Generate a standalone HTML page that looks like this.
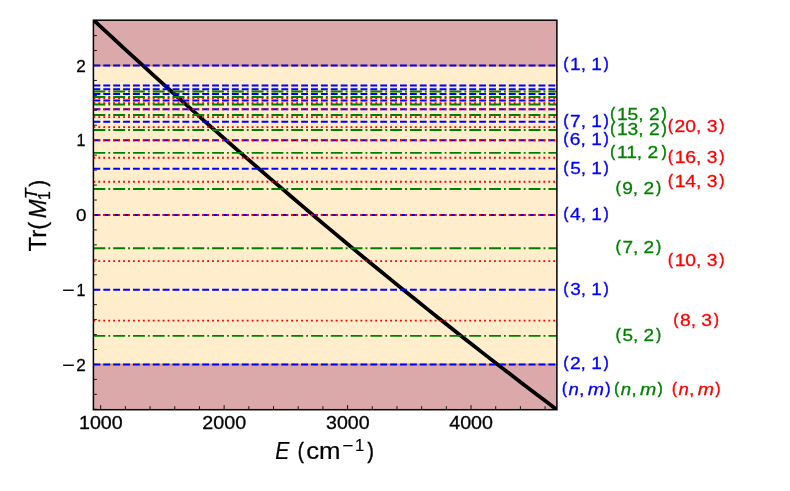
<!DOCTYPE html>
<html><head><meta charset="utf-8"><title>Tr(M1T) vs E</title>
<style>html,body{margin:0;padding:0;background:#fff}body{width:790px;height:491px;overflow:hidden}svg{display:block;will-change:transform}text{font-family:"Liberation Sans",sans-serif}</style>
</head><body>
<svg width="790" height="491" viewBox="0 0 790 491">
<rect x="0" y="0" width="790" height="491" fill="#ffffff"/>
<defs><clipPath id="ax"><rect x="93.4" y="20.2" width="463.5" height="389.5"/></clipPath></defs>
<g clip-path="url(#ax)">
<rect x="93.4" y="20.2" width="463.5" height="45.280" fill="#dba9a9"/>
<rect x="93.4" y="65.480" width="463.5" height="298.980" fill="#ffedcc"/>
<rect x="93.4" y="364.460" width="463.5" height="45.240" fill="#dba9a9"/>
<line x1="93.4" x2="556.9" y1="65.480" y2="65.480" stroke="#dc9870" stroke-width="1.9"/>
<line x1="93.4" x2="556.9" y1="364.460" y2="364.460" stroke="#dc9870" stroke-width="1.9"/>
<g stroke="#000" stroke-width="0.9">
<line x1="100.700" x2="100.700" y1="409.7" y2="405.10"/>
<line x1="125.388" x2="125.388" y1="409.7" y2="406.20"/>
<line x1="150.076" x2="150.076" y1="409.7" y2="406.20"/>
<line x1="174.764" x2="174.764" y1="409.7" y2="406.20"/>
<line x1="199.452" x2="199.452" y1="409.7" y2="406.20"/>
<line x1="224.140" x2="224.140" y1="409.7" y2="405.10"/>
<line x1="248.828" x2="248.828" y1="409.7" y2="406.20"/>
<line x1="273.516" x2="273.516" y1="409.7" y2="406.20"/>
<line x1="298.204" x2="298.204" y1="409.7" y2="406.20"/>
<line x1="322.892" x2="322.892" y1="409.7" y2="406.20"/>
<line x1="347.580" x2="347.580" y1="409.7" y2="405.10"/>
<line x1="372.268" x2="372.268" y1="409.7" y2="406.20"/>
<line x1="396.956" x2="396.956" y1="409.7" y2="406.20"/>
<line x1="421.644" x2="421.644" y1="409.7" y2="406.20"/>
<line x1="446.332" x2="446.332" y1="409.7" y2="406.20"/>
<line x1="471.020" x2="471.020" y1="409.7" y2="405.10"/>
<line x1="495.708" x2="495.708" y1="409.7" y2="406.20"/>
<line x1="520.396" x2="520.396" y1="409.7" y2="406.20"/>
<line x1="545.084" x2="545.084" y1="409.7" y2="406.20"/>
<line x1="93.4" x2="96.90" y1="409.307" y2="409.307"/>
<line x1="93.4" x2="96.90" y1="394.358" y2="394.358"/>
<line x1="93.4" x2="96.90" y1="379.409" y2="379.409"/>
<line x1="93.4" x2="98.00" y1="364.460" y2="364.460"/>
<line x1="93.4" x2="96.90" y1="349.511" y2="349.511"/>
<line x1="93.4" x2="96.90" y1="334.562" y2="334.562"/>
<line x1="93.4" x2="96.90" y1="319.613" y2="319.613"/>
<line x1="93.4" x2="96.90" y1="304.664" y2="304.664"/>
<line x1="93.4" x2="98.00" y1="289.715" y2="289.715"/>
<line x1="93.4" x2="96.90" y1="274.766" y2="274.766"/>
<line x1="93.4" x2="96.90" y1="259.817" y2="259.817"/>
<line x1="93.4" x2="96.90" y1="244.868" y2="244.868"/>
<line x1="93.4" x2="96.90" y1="229.919" y2="229.919"/>
<line x1="93.4" x2="98.00" y1="214.970" y2="214.970"/>
<line x1="93.4" x2="96.90" y1="200.021" y2="200.021"/>
<line x1="93.4" x2="96.90" y1="185.072" y2="185.072"/>
<line x1="93.4" x2="96.90" y1="170.123" y2="170.123"/>
<line x1="93.4" x2="96.90" y1="155.174" y2="155.174"/>
<line x1="93.4" x2="98.00" y1="140.225" y2="140.225"/>
<line x1="93.4" x2="96.90" y1="125.276" y2="125.276"/>
<line x1="93.4" x2="96.90" y1="110.327" y2="110.327"/>
<line x1="93.4" x2="96.90" y1="95.378" y2="95.378"/>
<line x1="93.4" x2="96.90" y1="80.429" y2="80.429"/>
<line x1="93.4" x2="98.00" y1="65.480" y2="65.480"/>
<line x1="93.4" x2="96.90" y1="50.531" y2="50.531"/>
<line x1="93.4" x2="96.90" y1="35.582" y2="35.582"/>
<line x1="93.4" x2="96.90" y1="20.633" y2="20.633"/>
</g>
<polyline points="82.16,9.42 92.16,18.76 102.20,28.11 112.28,37.45 122.41,46.79 132.58,56.14 142.80,65.48 153.06,74.82 163.36,84.17 173.72,93.51 184.12,102.85 194.57,112.20 205.07,121.54 215.62,130.88 226.22,140.22 236.87,149.57 247.58,158.91 258.33,168.25 269.14,177.60 280.01,186.94 290.92,196.28 301.90,205.63 312.93,214.97 324.02,224.31 335.16,233.66 346.36,243.00 357.63,252.34 368.95,261.69 380.33,271.03 391.78,280.37 403.28,289.72 414.85,299.06 426.48,308.40 438.18,317.74 449.94,327.09 461.77,336.43 473.66,345.77 485.62,355.12 497.65,364.46 509.74,373.80 521.91,383.15 534.14,392.49 546.45,401.83 558.83,411.18 571.28,420.52" fill="none" stroke="#000" stroke-width="3.75" stroke-linejoin="round"/>
<g stroke="#0000ff" stroke-width="1.87" stroke-dasharray="6.905 2.986" fill="none">
<line x1="93.4" x2="556.9" y1="65.480" y2="65.480"/>
<line x1="93.4" x2="556.9" y1="364.460" y2="364.460"/>
<line x1="93.4" x2="556.9" y1="289.715" y2="289.715"/>
<line x1="93.4" x2="556.9" y1="214.970" y2="214.970"/>
<line x1="93.4" x2="556.9" y1="168.775" y2="168.775"/>
<line x1="93.4" x2="556.9" y1="140.225" y2="140.225"/>
<line x1="93.4" x2="556.9" y1="121.765" y2="121.765"/>
<line x1="93.4" x2="556.9" y1="109.265" y2="109.265"/>
<line x1="93.4" x2="556.9" y1="100.454" y2="100.454"/>
<line x1="93.4" x2="556.9" y1="94.030" y2="94.030"/>
<line x1="93.4" x2="556.9" y1="89.211" y2="89.211"/>
<line x1="93.4" x2="556.9" y1="85.508" y2="85.508"/>
</g>
<g stroke="#008000" stroke-width="1.87" stroke-dasharray="11.944 2.986 1.866 2.986" fill="none">
<line x1="93.4" x2="556.9" y1="335.910" y2="335.910"/>
<line x1="93.4" x2="556.9" y1="248.235" y2="248.235"/>
<line x1="93.4" x2="556.9" y1="189.011" y2="189.011"/>
<line x1="93.4" x2="556.9" y1="152.870" y2="152.870"/>
<line x1="93.4" x2="556.9" y1="130.050" y2="130.050"/>
<line x1="93.4" x2="556.9" y1="114.942" y2="114.942"/>
<line x1="93.4" x2="556.9" y1="104.496" y2="104.496"/>
<line x1="93.4" x2="556.9" y1="97.001" y2="97.001"/>
<line x1="93.4" x2="556.9" y1="91.456" y2="91.456"/>
</g>
<g stroke="#ff0000" stroke-width="1.87" stroke-dasharray="1.866 3.079" fill="none">
<line x1="93.4" x2="556.9" y1="320.675" y2="320.675"/>
<line x1="93.4" x2="556.9" y1="261.165" y2="261.165"/>
<line x1="93.4" x2="556.9" y1="214.970" y2="214.970"/>
<line x1="93.4" x2="556.9" y1="181.705" y2="181.705"/>
<line x1="93.4" x2="556.9" y1="157.763" y2="157.763"/>
<line x1="93.4" x2="556.9" y1="140.225" y2="140.225"/>
<line x1="93.4" x2="556.9" y1="127.102" y2="127.102"/>
<line x1="93.4" x2="556.9" y1="117.075" y2="117.075"/>
<line x1="93.4" x2="556.9" y1="109.265" y2="109.265"/>
<line x1="93.4" x2="556.9" y1="103.075" y2="103.075"/>
<line x1="93.4" x2="556.9" y1="98.094" y2="98.094"/>
</g>
</g>
<rect x="93.4" y="20.2" width="463.5" height="389.5" fill="none" stroke="#000" stroke-width="1.5"/>
<text transform="translate(78.96 429.00) scale(1.0594 0.955)" font-size="18.55" fill="#000" stroke="#000" stroke-width="0.3">1000</text>
<text transform="translate(202.26 429.00) scale(1.0627 0.955)" font-size="18.55" fill="#000" stroke="#000" stroke-width="0.3">2000</text>
<text transform="translate(326.00 429.00) scale(1.0554 0.955)" font-size="18.55" fill="#000" stroke="#000" stroke-width="0.3">3000</text>
<text transform="translate(449.26 429.00) scale(1.0599 0.955)" font-size="18.55" fill="#000" stroke="#000" stroke-width="0.3">4000</text>
<text transform="translate(76.24 71.53) scale(0.9230 0.920)" font-size="18.55" fill="#000" stroke="#000" stroke-width="0.3">2</text>
<text transform="translate(76.48 146.28) scale(0.8627 0.920)" font-size="18.55" fill="#000" stroke="#000" stroke-width="0.3">1</text>
<text transform="translate(76.06 221.02) scale(1.0150 0.920)" font-size="18.55" fill="#000" stroke="#000" stroke-width="0.3">0</text>
<text transform="translate(76.48 295.77) scale(0.8627 0.920)" font-size="18.55" fill="#000" stroke="#000" stroke-width="0.3">1</text>
<text transform="translate(62.25 295.77) scale(1.1429 0.920)" font-size="18.55" fill="#000" stroke="#000" stroke-width="0.3">−</text>
<text transform="translate(76.24 370.51) scale(0.9230 0.920)" font-size="18.55" fill="#000" stroke="#000" stroke-width="0.3">2</text>
<text transform="translate(62.25 370.51) scale(1.1429 0.920)" font-size="18.55" fill="#000" stroke="#000" stroke-width="0.3">−</text>
<text transform="translate(563.49 69.34) scale(0.7975 0.902)" font-size="18.29" fill="#0000ff" stroke="#0000ff" stroke-width="0.6499999999999999">(</text>
<text transform="translate(570.08 70.48) scale(1.0431 0.900)" font-size="18.29" fill="#0000ff" stroke="#0000ff" stroke-width="0.3">1, 1</text>
<text transform="translate(603.85 69.34) scale(0.7975 0.902)" font-size="18.29" fill="#0000ff" stroke="#0000ff" stroke-width="0.6499999999999999">)</text>
<text transform="translate(563.49 368.32) scale(0.7975 0.902)" font-size="18.29" fill="#0000ff" stroke="#0000ff" stroke-width="0.6499999999999999">(</text>
<text transform="translate(569.94 369.46) scale(1.0479 0.900)" font-size="18.29" fill="#0000ff" stroke="#0000ff" stroke-width="0.3">2, 1</text>
<text transform="translate(603.85 368.32) scale(0.7975 0.902)" font-size="18.29" fill="#0000ff" stroke="#0000ff" stroke-width="0.6499999999999999">)</text>
<text transform="translate(563.49 293.58) scale(0.7975 0.902)" font-size="18.29" fill="#0000ff" stroke="#0000ff" stroke-width="0.6499999999999999">(</text>
<text transform="translate(570.23 294.71) scale(1.0381 0.900)" font-size="18.29" fill="#0000ff" stroke="#0000ff" stroke-width="0.3">3, 1</text>
<text transform="translate(603.85 293.58) scale(0.7975 0.902)" font-size="18.29" fill="#0000ff" stroke="#0000ff" stroke-width="0.6499999999999999">)</text>
<text transform="translate(563.49 218.83) scale(0.7975 0.902)" font-size="18.29" fill="#0000ff" stroke="#0000ff" stroke-width="0.6499999999999999">(</text>
<text transform="translate(570.05 219.97) scale(1.0444 0.900)" font-size="18.29" fill="#0000ff" stroke="#0000ff" stroke-width="0.3">4, 1</text>
<text transform="translate(603.85 218.83) scale(0.7975 0.902)" font-size="18.29" fill="#0000ff" stroke="#0000ff" stroke-width="0.6499999999999999">)</text>
<text transform="translate(563.49 172.64) scale(0.7975 0.902)" font-size="18.29" fill="#0000ff" stroke="#0000ff" stroke-width="0.6499999999999999">(</text>
<text transform="translate(570.21 173.78) scale(1.0388 0.900)" font-size="18.29" fill="#0000ff" stroke="#0000ff" stroke-width="0.3">5, 1</text>
<text transform="translate(603.85 172.64) scale(0.7975 0.902)" font-size="18.29" fill="#0000ff" stroke="#0000ff" stroke-width="0.6499999999999999">)</text>
<text transform="translate(563.49 144.09) scale(0.7975 0.902)" font-size="18.29" fill="#0000ff" stroke="#0000ff" stroke-width="0.6499999999999999">(</text>
<text transform="translate(569.87 145.22) scale(1.0503 0.900)" font-size="18.29" fill="#0000ff" stroke="#0000ff" stroke-width="0.3">6, 1</text>
<text transform="translate(603.85 144.09) scale(0.7975 0.902)" font-size="18.29" fill="#0000ff" stroke="#0000ff" stroke-width="0.6499999999999999">)</text>
<text transform="translate(563.49 125.63) scale(0.7975 0.902)" font-size="18.29" fill="#0000ff" stroke="#0000ff" stroke-width="0.6499999999999999">(</text>
<text transform="translate(570.08 126.76) scale(1.0433 0.900)" font-size="18.29" fill="#0000ff" stroke="#0000ff" stroke-width="0.3">7, 1</text>
<text transform="translate(603.85 125.63) scale(0.7975 0.902)" font-size="18.29" fill="#0000ff" stroke="#0000ff" stroke-width="0.6499999999999999">)</text>
<text transform="translate(615.79 339.77) scale(0.7975 0.902)" font-size="18.29" fill="#008000" stroke="#008000" stroke-width="0.6499999999999999">(</text>
<text transform="translate(622.51 340.91) scale(1.0351 0.900)" font-size="18.29" fill="#008000" stroke="#008000" stroke-width="0.3">5, 2</text>
<text transform="translate(656.15 339.77) scale(0.7975 0.902)" font-size="18.29" fill="#008000" stroke="#008000" stroke-width="0.6499999999999999">)</text>
<text transform="translate(615.79 252.10) scale(0.7975 0.902)" font-size="18.29" fill="#008000" stroke="#008000" stroke-width="0.6499999999999999">(</text>
<text transform="translate(622.38 253.23) scale(1.0396 0.900)" font-size="18.29" fill="#008000" stroke="#008000" stroke-width="0.3">7, 2</text>
<text transform="translate(656.15 252.10) scale(0.7975 0.902)" font-size="18.29" fill="#008000" stroke="#008000" stroke-width="0.6499999999999999">)</text>
<text transform="translate(615.79 192.87) scale(0.7975 0.902)" font-size="18.29" fill="#008000" stroke="#008000" stroke-width="0.6499999999999999">(</text>
<text transform="translate(622.13 194.01) scale(1.0481 0.900)" font-size="18.29" fill="#008000" stroke="#008000" stroke-width="0.3">9, 2</text>
<text transform="translate(656.15 192.87) scale(0.7975 0.902)" font-size="18.29" fill="#008000" stroke="#008000" stroke-width="0.6499999999999999">)</text>
<text transform="translate(610.30 156.73) scale(0.7975 0.902)" font-size="18.29" fill="#008000" stroke="#008000" stroke-width="0.6499999999999999">(</text>
<text transform="translate(616.89 157.87) scale(1.0499 0.900)" font-size="18.29" fill="#008000" stroke="#008000" stroke-width="0.3">11, 2</text>
<text transform="translate(661.64 156.73) scale(0.7975 0.902)" font-size="18.29" fill="#008000" stroke="#008000" stroke-width="0.6499999999999999">)</text>
<text transform="translate(610.30 133.91) scale(0.7975 0.902)" font-size="18.29" fill="#008000" stroke="#008000" stroke-width="0.6499999999999999">(</text>
<text transform="translate(616.89 135.05) scale(1.0499 0.900)" font-size="18.29" fill="#008000" stroke="#008000" stroke-width="0.3">13, 2</text>
<text transform="translate(661.64 133.91) scale(0.7975 0.902)" font-size="18.29" fill="#008000" stroke="#008000" stroke-width="0.6499999999999999">)</text>
<text transform="translate(610.30 118.80) scale(0.7975 0.902)" font-size="18.29" fill="#008000" stroke="#008000" stroke-width="0.6499999999999999">(</text>
<text transform="translate(616.89 119.94) scale(1.0499 0.900)" font-size="18.29" fill="#008000" stroke="#008000" stroke-width="0.3">15, 2</text>
<text transform="translate(661.64 118.80) scale(0.7975 0.902)" font-size="18.29" fill="#008000" stroke="#008000" stroke-width="0.6499999999999999">)</text>
<text transform="translate(673.54 324.54) scale(0.7975 0.902)" font-size="18.29" fill="#ff0000" stroke="#ff0000" stroke-width="0.6499999999999999">(</text>
<text transform="translate(680.03 325.68) scale(1.0506 0.900)" font-size="18.29" fill="#ff0000" stroke="#ff0000" stroke-width="0.3">8, 3</text>
<text transform="translate(713.90 324.54) scale(0.7975 0.902)" font-size="18.29" fill="#ff0000" stroke="#ff0000" stroke-width="0.6499999999999999">)</text>
<text transform="translate(668.05 265.03) scale(0.7975 0.902)" font-size="18.29" fill="#ff0000" stroke="#ff0000" stroke-width="0.6499999999999999">(</text>
<text transform="translate(674.63 266.16) scale(1.0557 0.900)" font-size="18.29" fill="#ff0000" stroke="#ff0000" stroke-width="0.3">10, 3</text>
<text transform="translate(719.39 265.03) scale(0.7975 0.902)" font-size="18.29" fill="#ff0000" stroke="#ff0000" stroke-width="0.6499999999999999">)</text>
<text transform="translate(668.05 185.57) scale(0.7975 0.902)" font-size="18.29" fill="#ff0000" stroke="#ff0000" stroke-width="0.6499999999999999">(</text>
<text transform="translate(674.63 186.71) scale(1.0557 0.900)" font-size="18.29" fill="#ff0000" stroke="#ff0000" stroke-width="0.3">14, 3</text>
<text transform="translate(719.39 185.57) scale(0.7975 0.902)" font-size="18.29" fill="#ff0000" stroke="#ff0000" stroke-width="0.6499999999999999">)</text>
<text transform="translate(668.05 161.62) scale(0.7975 0.902)" font-size="18.29" fill="#ff0000" stroke="#ff0000" stroke-width="0.6499999999999999">(</text>
<text transform="translate(674.63 162.76) scale(1.0557 0.900)" font-size="18.29" fill="#ff0000" stroke="#ff0000" stroke-width="0.3">16, 3</text>
<text transform="translate(719.39 161.62) scale(0.7975 0.902)" font-size="18.29" fill="#ff0000" stroke="#ff0000" stroke-width="0.6499999999999999">)</text>
<text transform="translate(668.05 130.96) scale(0.7975 0.902)" font-size="18.29" fill="#ff0000" stroke="#ff0000" stroke-width="0.6499999999999999">(</text>
<text transform="translate(674.49 132.10) scale(1.0591 0.900)" font-size="18.29" fill="#ff0000" stroke="#ff0000" stroke-width="0.3">20, 3</text>
<text transform="translate(719.39 130.96) scale(0.7975 0.902)" font-size="18.29" fill="#ff0000" stroke="#ff0000" stroke-width="0.6499999999999999">)</text>
<text transform="translate(562.07 393.96) scale(0.7975 0.902)" font-size="18.29" fill="#0000ff" stroke="#0000ff" stroke-width="0.6499999999999999">(</text>
<text transform="translate(568.52 395.10) scale(1.0133 0.900)" font-size="18.29" fill="#0000ff" stroke="#0000ff" stroke-width="0.3" font-style="italic">n</text>
<text transform="translate(578.97 395.10) scale(1.0800 0.900)" font-size="18.29" fill="#0000ff" stroke="#0000ff" stroke-width="0.3">,</text>
<text transform="translate(587.66 395.10) scale(1.0666 0.900)" font-size="18.29" fill="#0000ff" stroke="#0000ff" stroke-width="0.3" font-style="italic">m</text>
<text transform="translate(605.48 393.96) scale(0.7975 0.902)" font-size="18.29" fill="#0000ff" stroke="#0000ff" stroke-width="0.6499999999999999">)</text>
<text transform="translate(614.37 393.96) scale(0.7975 0.902)" font-size="18.29" fill="#008000" stroke="#008000" stroke-width="0.6499999999999999">(</text>
<text transform="translate(620.82 395.10) scale(1.0133 0.900)" font-size="18.29" fill="#008000" stroke="#008000" stroke-width="0.3" font-style="italic">n</text>
<text transform="translate(631.27 395.10) scale(1.0800 0.900)" font-size="18.29" fill="#008000" stroke="#008000" stroke-width="0.3">,</text>
<text transform="translate(639.96 395.10) scale(1.0666 0.900)" font-size="18.29" fill="#008000" stroke="#008000" stroke-width="0.3" font-style="italic">m</text>
<text transform="translate(657.78 393.96) scale(0.7975 0.902)" font-size="18.29" fill="#008000" stroke="#008000" stroke-width="0.6499999999999999">)</text>
<text transform="translate(672.12 393.96) scale(0.7975 0.902)" font-size="18.29" fill="#ff0000" stroke="#ff0000" stroke-width="0.6499999999999999">(</text>
<text transform="translate(678.57 395.10) scale(1.0133 0.900)" font-size="18.29" fill="#ff0000" stroke="#ff0000" stroke-width="0.3" font-style="italic">n</text>
<text transform="translate(689.02 395.10) scale(1.0800 0.900)" font-size="18.29" fill="#ff0000" stroke="#ff0000" stroke-width="0.3">,</text>
<text transform="translate(697.71 395.10) scale(1.0666 0.900)" font-size="18.29" fill="#ff0000" stroke="#ff0000" stroke-width="0.3" font-style="italic">m</text>
<text transform="translate(715.53 393.96) scale(0.7975 0.902)" font-size="18.29" fill="#ff0000" stroke="#ff0000" stroke-width="0.6499999999999999">)</text>
<text transform="translate(275.15 459.00) scale(0.9035 1.000)" font-size="23.32" fill="#000" stroke="#000" stroke-width="0.2" font-style="italic">E</text>
<text transform="translate(297.78 457.50) scale(0.7537 0.902)" font-size="24.02" fill="#000" stroke="#000" stroke-width="0.55">(</text>
<text transform="translate(306.20 459.00) scale(1.1065 1.000)" font-size="23.32" fill="#000" stroke="#000" stroke-width="0.2">cm</text>
<text transform="translate(342.37 451.40) scale(1.1600 1.000)" font-size="16.32" fill="#000" stroke="#000" stroke-width="0.2">−</text>
<text transform="translate(355.05 451.20) scale(1.0088 1.000)" font-size="16.32" fill="#000" stroke="#000" stroke-width="0.2">1</text>
<text transform="translate(367.49 457.50) scale(0.7851 0.902)" font-size="24.02" fill="#000" stroke="#000" stroke-width="0.55">)</text>
<g transform="translate(46.2 250.9) rotate(-90)">
<text transform="translate(-0.60 0.00) scale(1.0087 1.000)" font-size="23.74" fill="#000" stroke="#000" stroke-width="0.3">Tr(</text>
<text transform="translate(32.54 0.00) scale(0.9514 1.000)" font-size="23.74" fill="#000" stroke="#000" stroke-width="0.3" font-style="italic">M</text>
<text transform="translate(50.98 3.81) scale(0.9498 1.000)" font-size="16.62" fill="#000" stroke="#000" stroke-width="0.3">1</text>
<text transform="translate(51.89 -8.96) scale(1.0292 1.000)" font-size="16.62" fill="#000" stroke="#000" stroke-width="0.3" font-style="italic">T</text>
<text transform="translate(64.32 -1.48) scale(0.7975 0.902)" font-size="23.74" fill="#000" stroke="#000" stroke-width="0.6499999999999999">)</text>
</g>
</svg></body></html>
